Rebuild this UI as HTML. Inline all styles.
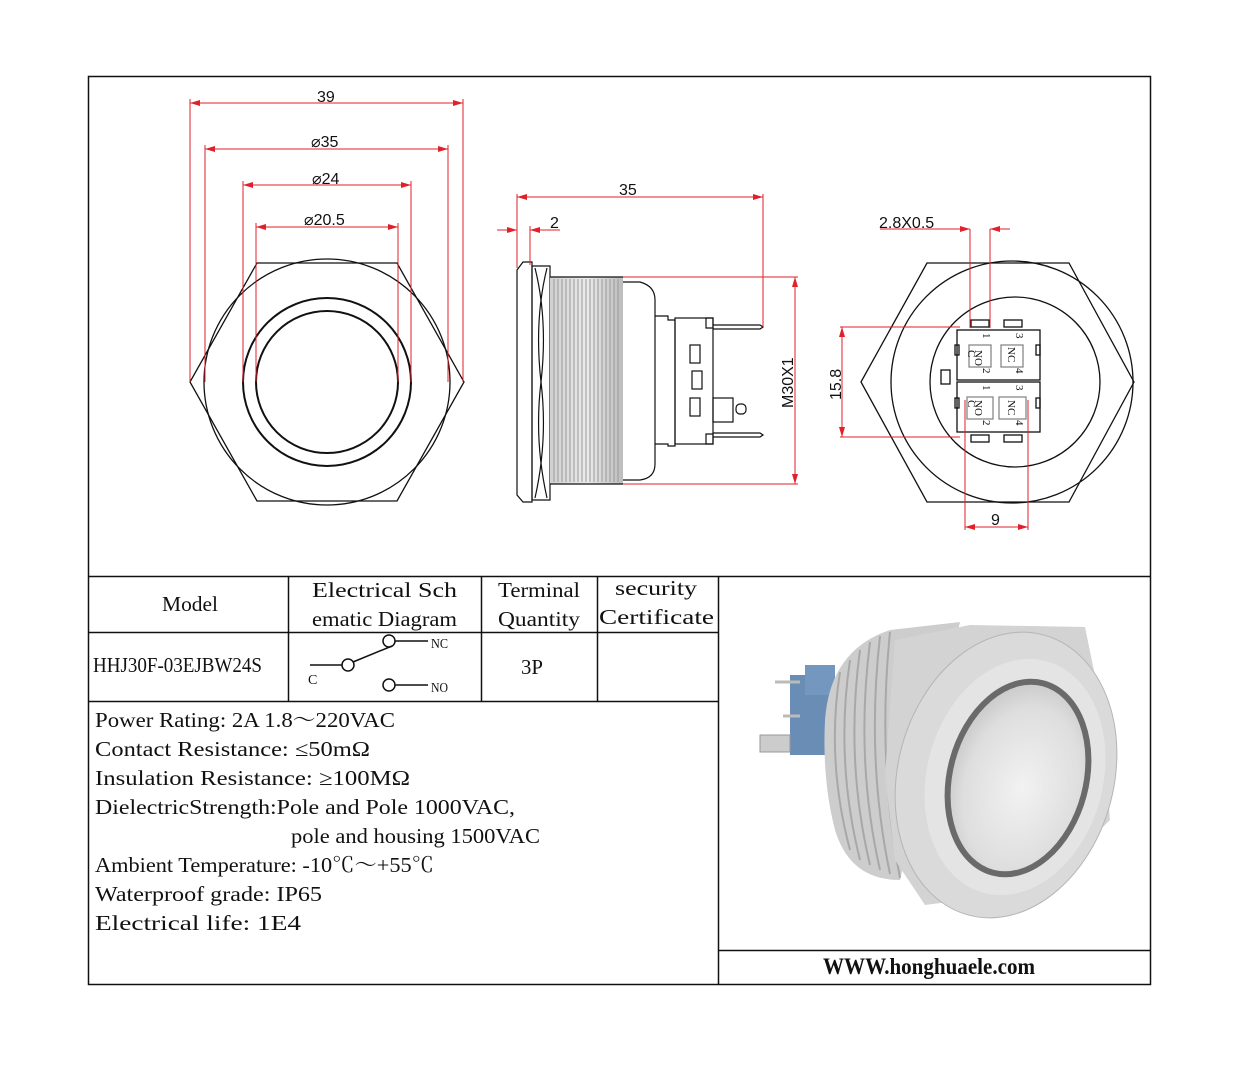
<!DOCTYPE html>
<html><head><meta charset="utf-8"><style>
html,body{margin:0;padding:0;background:#fff;}
svg{display:block;}
text{font-family:"Liberation Serif","Noto Serif CJK SC",serif;fill:#111;}
.d{font-family:"Liberation Sans",sans-serif;font-size:16px;fill:#111;}
</style></head><body>
<svg width="1240" height="1074" viewBox="0 0 1240 1074" xmlns="http://www.w3.org/2000/svg">
<defs>
<marker id="a" viewBox="0 0 10 6" refX="10" refY="3" markerWidth="10" markerHeight="6" orient="auto-start-reverse" markerUnits="userSpaceOnUse"><path d="M0,0L10,3L0,6z" fill="#e0202a"/></marker>
<radialGradient id="face" cx="0.55" cy="0.55" r="0.6"><stop offset="0" stop-color="#f2f2f2"/><stop offset="0.7" stop-color="#dedede"/><stop offset="1" stop-color="#c4c4c4"/></radialGradient>
<linearGradient id="thr" x1="0" y1="0" x2="1" y2="0"><stop offset="0" stop-color="#d0d0d0"/><stop offset="0.5" stop-color="#ececec"/><stop offset="1" stop-color="#bcbcbc"/></linearGradient>
</defs>
<g stroke="#111" stroke-width="1.5" fill="none">
<rect x="88.5" y="76.5" width="1062" height="908"/>
<line x1="88" y1="576.5" x2="1151" y2="576.5"/>
<line x1="718.5" y1="576" x2="718.5" y2="985"/>
<line x1="88" y1="632.5" x2="718" y2="632.5"/>
<line x1="88" y1="701.5" x2="718" y2="701.5"/>
<line x1="288.5" y1="576" x2="288.5" y2="701"/>
<line x1="481.5" y1="576" x2="481.5" y2="701"/>
<line x1="597.5" y1="576" x2="597.5" y2="701"/>
<line x1="718" y1="950.5" x2="1151" y2="950.5"/>
</g>

<g stroke="#111" stroke-width="1.3" fill="none">
<polygon points="190,382 257,263 397,263 464,382 397,501 257,501"/>
<circle cx="327" cy="382" r="123"/>
<circle cx="327" cy="382" r="84" stroke-width="2"/>
<circle cx="327" cy="382" r="71" stroke-width="2"/>
</g>
<g stroke="#e0202a" stroke-width="1" fill="none">
<line x1="190" y1="99" x2="190" y2="382"/><line x1="463" y1="99" x2="463" y2="382"/>
<line x1="190" y1="103" x2="463" y2="103" marker-start="url(#a)" marker-end="url(#a)"/>
<line x1="205" y1="145" x2="205" y2="382"/><line x1="448" y1="145" x2="448" y2="382"/>
<line x1="205" y1="149" x2="448" y2="149" marker-start="url(#a)" marker-end="url(#a)"/>
<line x1="243" y1="181" x2="243" y2="382"/><line x1="411" y1="181" x2="411" y2="382"/>
<line x1="243" y1="185" x2="411" y2="185" marker-start="url(#a)" marker-end="url(#a)"/>
<line x1="256" y1="223" x2="256" y2="382"/><line x1="398" y1="223" x2="398" y2="382"/>
<line x1="256" y1="227" x2="398" y2="227" marker-start="url(#a)" marker-end="url(#a)"/>
</g>
<text class="d" x="317" y="102">39</text>
<text class="d" x="311" y="147">⌀35</text>
<text class="d" x="312" y="184">⌀24</text>
<text class="d" x="304" y="225">⌀20.5</text>

<g stroke="#111" stroke-width="1.2" fill="none">
<path d="M523,262 L532,262 L532,502 L523,502 L517,495 L517,270 Z"/>
<path d="M532,266 L550,266 L550,500 L532,500 Z"/>
<path d="M535,268 Q548,320 541,382 Q548,440 535,498"/>
<path d="M547,268 Q534,320 541,382 Q534,440 547,498"/>
<rect x="550" y="277" width="73" height="207" fill="url(#thr)" stroke="none"/>
<path d="M550,277 L623,277 M550,484 L623,484"/>
<path d="M623,282 L640,282 Q655,286 655,300 L655,464 Q655,478 640,480 L623,480"/>
<path d="M655,316 L668,316 L668,320 L675,320 L675,446 L668,446 L668,444 L655,444"/>
<rect x="675" y="318" width="38" height="126"/>
<path d="M706,318 L713,318 L713,328 L706,328 Z M706,434 L713,434 L713,444 L706,444 Z"/>
<path d="M713,325 L760,325 L763,327 L760,329 L713,329"/>
<path d="M713,433 L760,433 L763,435 L760,437 L713,437"/>
<rect x="713" y="398" width="20" height="24"/>
<rect x="736" y="404" width="10" height="10" rx="4"/>
<rect x="690" y="345" width="10" height="18"/>
<rect x="692" y="371" width="10" height="18"/>
<rect x="690" y="398" width="10" height="18"/>
</g>
<g stroke="#999" stroke-width="1">
<line x1="554" y1="279" x2="554" y2="482"/><line x1="558" y1="279" x2="558" y2="482"/><line x1="562" y1="279" x2="562" y2="482"/><line x1="566" y1="279" x2="566" y2="482"/><line x1="570" y1="279" x2="570" y2="482"/><line x1="574" y1="279" x2="574" y2="482"/><line x1="578" y1="279" x2="578" y2="482"/><line x1="582" y1="279" x2="582" y2="482"/><line x1="586" y1="279" x2="586" y2="482"/><line x1="590" y1="279" x2="590" y2="482"/><line x1="594" y1="279" x2="594" y2="482"/><line x1="598" y1="279" x2="598" y2="482"/><line x1="602" y1="279" x2="602" y2="482"/><line x1="606" y1="279" x2="606" y2="482"/><line x1="610" y1="279" x2="610" y2="482"/><line x1="614" y1="279" x2="614" y2="482"/><line x1="618" y1="279" x2="618" y2="482"/>
</g>
<g stroke="#e0202a" stroke-width="1" fill="none">
<line x1="517" y1="194" x2="517" y2="268"/><line x1="763" y1="194" x2="763" y2="327"/>
<line x1="517" y1="197" x2="763" y2="197" marker-start="url(#a)" marker-end="url(#a)"/>
<line x1="530" y1="226" x2="530" y2="265"/>
<line x1="497" y1="230" x2="517" y2="230" marker-end="url(#a)"/>
<line x1="560" y1="230" x2="530" y2="230" marker-end="url(#a)"/>
<line x1="623" y1="277" x2="798" y2="277"/><line x1="623" y1="484" x2="798" y2="484"/>
<line x1="795" y1="277" x2="795" y2="484" marker-start="url(#a)" marker-end="url(#a)"/>
</g>
<text class="d" x="619" y="195">35</text>
<text class="d" x="550" y="228">2</text>
<text class="d" transform="translate(793,408) rotate(-90)">M30X1</text>

<g stroke="#111" stroke-width="1.3" fill="none">
<polygon points="861,382 927,263 1069,263 1134,382 1069,502 927,502"/>
<circle cx="1012" cy="382" r="121"/>
<circle cx="1015" cy="382" r="85"/>
<rect x="957" y="330" width="83" height="50"/>
<rect x="957" y="382" width="83" height="50"/>
<rect x="971" y="320" width="18" height="7"/><rect x="1004" y="320" width="18" height="7"/>
<rect x="971" y="435" width="18" height="7"/><rect x="1004" y="435" width="18" height="7"/>
<rect x="941" y="370" width="9" height="14"/>
<rect x="955" y="345" width="4" height="10"/><rect x="1036" y="345" width="4" height="10"/>
<rect x="955" y="398" width="4" height="10"/><rect x="1036" y="398" width="4" height="10"/>
<rect x="969" y="345" width="22" height="22" stroke="#888"/><rect x="1001" y="345" width="22" height="22" stroke="#888"/>
<rect x="967" y="397" width="26" height="22" stroke="#888"/><rect x="999" y="397" width="27" height="22" stroke="#888"/>
</g>
<g font-family="Liberation Sans,sans-serif" font-size="11" fill="#333">
<text transform="translate(975,350) rotate(90)">NO</text><text transform="translate(968,350) rotate(90)">C</text>
<text transform="translate(1008,347) rotate(90)">NC</text>
<text transform="translate(975,400) rotate(90)">NO</text><text transform="translate(968,400) rotate(90)">C</text>
<text transform="translate(1008,400) rotate(90)">NC</text>
<text transform="translate(983,333) rotate(90)">1</text><text transform="translate(1016,333) rotate(90)">3</text>
<text transform="translate(983,368) rotate(90)">2</text><text transform="translate(1016,368) rotate(90)">4</text>
<text transform="translate(983,385) rotate(90)">1</text><text transform="translate(1016,385) rotate(90)">3</text>
<text transform="translate(983,420) rotate(90)">2</text><text transform="translate(1016,420) rotate(90)">4</text>
</g>
<g stroke="#e0202a" stroke-width="1" fill="none">
<line x1="880" y1="229" x2="970" y2="229" marker-end="url(#a)"/>
<line x1="1010" y1="229" x2="990" y2="229" marker-end="url(#a)"/>
<line x1="970" y1="229" x2="970" y2="328"/><line x1="990" y1="229" x2="990" y2="328"/>
<line x1="840" y1="327" x2="960" y2="327"/><line x1="840" y1="437" x2="960" y2="437"/>
<line x1="842" y1="327" x2="842" y2="437" marker-start="url(#a)" marker-end="url(#a)"/>
<line x1="965" y1="400" x2="965" y2="530"/><line x1="1028" y1="400" x2="1028" y2="530"/>
<line x1="965" y1="527" x2="1028" y2="527" marker-start="url(#a)" marker-end="url(#a)"/>
</g>
<text class="d" x="879" y="228">2.8X0.5</text>
<text class="d" transform="translate(841,400) rotate(-90)">15.8</text>
<text class="d" x="991" y="525">9</text>

<g font-size="21">
<text x="162" y="611" textLength="56" lengthAdjust="spacingAndGlyphs">Model</text>
<text x="312" y="597" textLength="145" lengthAdjust="spacingAndGlyphs">Electrical Sch</text>
<text x="312" y="626" textLength="145" lengthAdjust="spacingAndGlyphs">ematic Diagram</text>
<text x="498" y="597" textLength="82" lengthAdjust="spacingAndGlyphs">Terminal</text>
<text x="498" y="626" textLength="82" lengthAdjust="spacingAndGlyphs">Quantity</text>
<text x="615" y="595" textLength="82" lengthAdjust="spacingAndGlyphs">security</text>
<text x="599" y="624" textLength="115" lengthAdjust="spacingAndGlyphs">Certificate</text>
<text x="93" y="672" textLength="169" lengthAdjust="spacingAndGlyphs">HHJ30F-03EJBW24S</text>
<text x="521" y="674" textLength="22" lengthAdjust="spacingAndGlyphs">3P</text>
</g>
<g stroke="#111" stroke-width="1.5" fill="none">
<line x1="310" y1="665" x2="342" y2="665"/>
<circle cx="348" cy="665" r="6"/>
<line x1="353" y1="662" x2="392" y2="646"/>
<circle cx="389" cy="641" r="6"/><line x1="395" y1="641" x2="428" y2="641"/>
<circle cx="389" cy="685" r="6"/><line x1="395" y1="685" x2="428" y2="685"/>
</g>
<g font-size="14">
<text x="431" y="648" textLength="17" lengthAdjust="spacingAndGlyphs">NC</text>
<text x="431" y="692" textLength="17" lengthAdjust="spacingAndGlyphs">NO</text>
<text x="308" y="684">C</text>
</g>
<g font-size="21">
<text x="95" y="727" textLength="300" lengthAdjust="spacingAndGlyphs">Power Rating: 2A  1.8～220VAC</text>
<text x="95" y="756" textLength="275" lengthAdjust="spacingAndGlyphs">Contact Resistance: ≤50mΩ</text>
<text x="95" y="785" textLength="315" lengthAdjust="spacingAndGlyphs">Insulation Resistance: ≥100MΩ</text>
<text x="95" y="814" textLength="420" lengthAdjust="spacingAndGlyphs">DielectricStrength:Pole and Pole 1000VAC,</text>
<text x="291" y="843" textLength="249" lengthAdjust="spacingAndGlyphs">pole and housing 1500VAC</text>
<text x="95" y="872" textLength="339" lengthAdjust="spacingAndGlyphs">Ambient Temperature: -10℃～+55℃</text>
<text x="95" y="901" textLength="227" lengthAdjust="spacingAndGlyphs">Waterproof grade: IP65</text>
<text x="95" y="930" textLength="206" lengthAdjust="spacingAndGlyphs">Electrical life: 1E4</text>
</g>
<text x="823" y="974" font-size="23" font-weight="bold" textLength="212" lengthAdjust="spacingAndGlyphs">WWW.honghuaele.com</text>

<g>
<rect x="790" y="675" width="40" height="80" fill="#6a8db5"/>
<rect x="805" y="665" width="30" height="30" fill="#7397bf"/>
<path d="M760,735 L790,735 L790,752 L760,752 Z" fill="#ccc" stroke="#999"/>
<line x1="775" y1="682" x2="800" y2="682" stroke="#bbb" stroke-width="3"/>
<line x1="783" y1="716" x2="800" y2="716" stroke="#bbb" stroke-width="3"/>
<path d="M825,720 Q830,650 890,630 L960,622 L900,880 Q850,880 835,830 Q822,780 825,720 Z" fill="#cdcdcd"/>
<g stroke="#a8a8a8" stroke-width="2" fill="none">
<path d="M850,660 Q835,760 860,860"/><path d="M860,650 Q845,760 870,865"/><path d="M870,642 Q855,760 880,870"/><path d="M880,636 Q866,760 890,874"/><path d="M890,632 Q877,760 900,878"/><path d="M840,672 Q826,760 850,850"/>
</g>
<path d="M885,775 L895,640 L970,625 L1085,627 L1100,700 L1110,820 L1040,890 L925,905 L895,860 Z" fill="#d3d3d3"/>
<ellipse cx="1006" cy="775" rx="108" ry="145" transform="rotate(15 1006 775)" fill="#dadada" stroke="#b5b5b5"/>
<ellipse cx="1015" cy="777" rx="88" ry="120" transform="rotate(15 1015 777)" fill="#e4e4e4"/>
<ellipse cx="1018" cy="778" rx="68" ry="98" transform="rotate(15 1018 778)" fill="url(#face)" stroke="#6a6a6a" stroke-width="6"/>
</g>
</svg>
</body></html>
